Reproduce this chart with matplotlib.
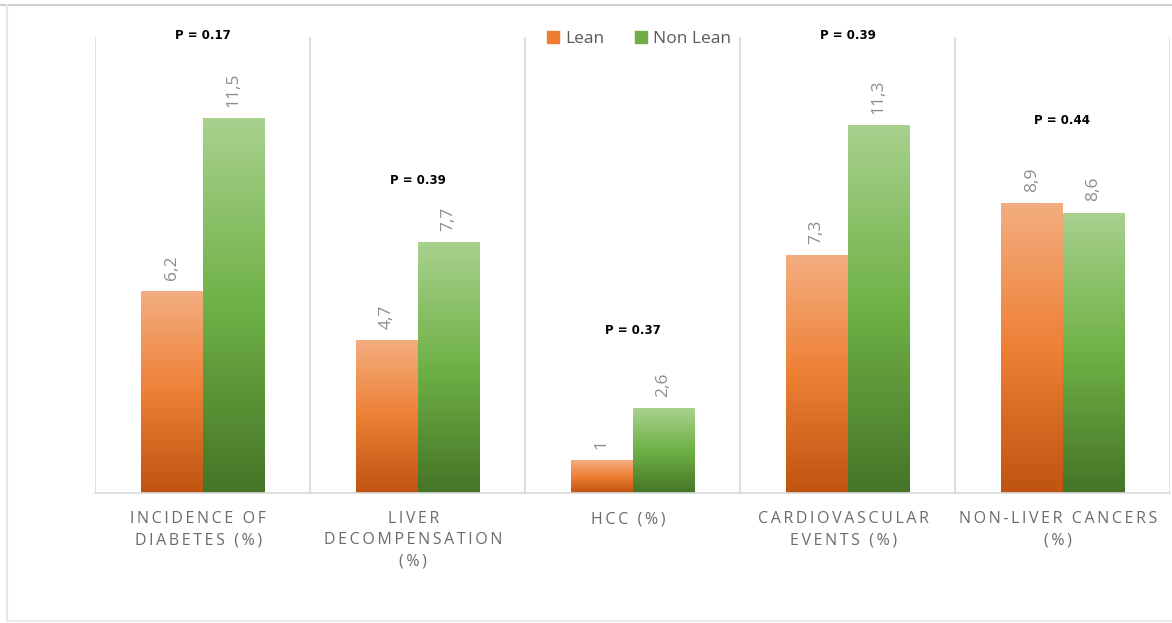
import numpy as np
import matplotlib.pyplot as plt
from matplotlib.colors import LinearSegmentedColormap
from matplotlib.patches import Rectangle
from matplotlib.lines import Line2D

categories = ['INCIDENCE OF\nDIABETES (%)', 'LIVER\nDECOMPENSATION\n(%)', 'HCC (%)',
              'CARDIOVASCULAR\nEVENTS (%)', 'NON-LIVER CANCERS\n(%)']
lean = [6.2, 4.7, 1.0, 7.3, 8.9]
non_lean = [11.5, 7.7, 2.6, 11.3, 8.6]
lean_txt = ['6,2', '4,7', '1', '7,3', '8,9']
non_lean_txt = ['11,5', '7,7', '2,6', '11,3', '8,6']
p_values = ['P = 0.17', 'P = 0.39', 'P = 0.37', 'P = 0.39', 'P = 0.44']
p_y = [14.05, 9.6, 5.0, 14.05, 11.45]

orange = LinearSegmentedColormap.from_list('o', ['#bf5410', '#ee8035', '#f3ad80'])
green = LinearSegmentedColormap.from_list('g', ['#457427', '#6fb146', '#a8d18e'])


def spaced(s):
    # loose tracking for the category captions
    return '\n'.join('\u2009'.join(line) for line in s.split('\n'))


fig = plt.figure(figsize=(11.72, 6.23), dpi=100)
# outer frame (top, left, bottom)
for xs, ys, c in [([0, 1], [1 - 5 / 623] * 2, '#d0d0d0'),
                  ([7 / 1172] * 2, [2 / 623, 1 - 5 / 623], '#e6e6e6'),
                  ([7 / 1172, 1], [2 / 623] * 2, '#ececec')]:
    fig.add_artist(Line2D(xs, ys, transform=fig.transFigure, color=c, lw=1.5))

ax = fig.add_axes([95 / 1172, 130 / 623, 1075 / 1172, 456 / 623])

x = np.arange(len(categories))
w = 0.287
b1 = ax.bar(x - w / 2, lean, w, color='none', label='Lean')
b2 = ax.bar(x + w / 2, non_lean, w, color='none', label='Non Lean')

grad = np.linspace(0, 1, 256).reshape(-1, 1)
for bars, cmap in [(b1, orange), (b2, green)]:
    for r in bars:
        x0, y0 = r.get_x(), r.get_y()
        im = ax.imshow(grad, cmap=cmap, origin='lower', aspect='auto',
                       extent=[x0, x0 + r.get_width(), y0, y0 + r.get_height()])
        im.set_clip_path(r)

for i in range(len(x)):
    ax.text(x[i] - w / 2, lean[i] + 0.35, lean_txt[i], rotation=90, ha='center', va='bottom',
            color='#8c8c8c', fontsize=12.5, family='Open Sans')
    ax.text(x[i] + w / 2, non_lean[i] + 0.35, non_lean_txt[i], rotation=90, ha='center', va='bottom',
            color='#8c8c8c', fontsize=12.5, family='Open Sans')
    ax.text(x[i], p_y[i], p_values[i], ha='center', va='center', fontsize=8.5,
            fontweight='bold', color='black', clip_on=False)

for b in np.arange(len(x) + 1) - 0.5:
    ax.axvline(b, color='#d9d9d9', lw=1.2, zorder=0)

ax.set_xlim(-0.5, len(x) - 0.5)
ax.set_ylim(0, 14)
ax.set_xticks(x - 0.02)
ax.set_xticklabels([spaced(c) for c in categories], color='#6b6b6b', fontsize=11.5,
                   family='Open Sans', linespacing=1.45)
ax.tick_params(axis='x', length=0, pad=13)
ax.set_yticks([])
for s in ['top', 'left', 'right']:
    ax.spines[s].set_visible(False)
ax.spines['bottom'].set_color('#d9d9d9')
ax.spines['bottom'].set_linewidth(1.2)

handles = [Rectangle((0, 0), 1, 1, color='#ed7d31'), Rectangle((0, 0), 1, 1, color='#70ad47')]
ax.legend(handles, ['Lean', 'Non Lean'], loc='center', bbox_to_anchor=(0.506, 0.996),
          ncol=2, frameon=False, handlelength=0.7, handleheight=0.7,
          handletextpad=0.35, columnspacing=1.8, labelcolor='#595959',
          prop={'family': 'Open Sans', 'size': 12.5})

fig.savefig('out.png', dpi=100)
